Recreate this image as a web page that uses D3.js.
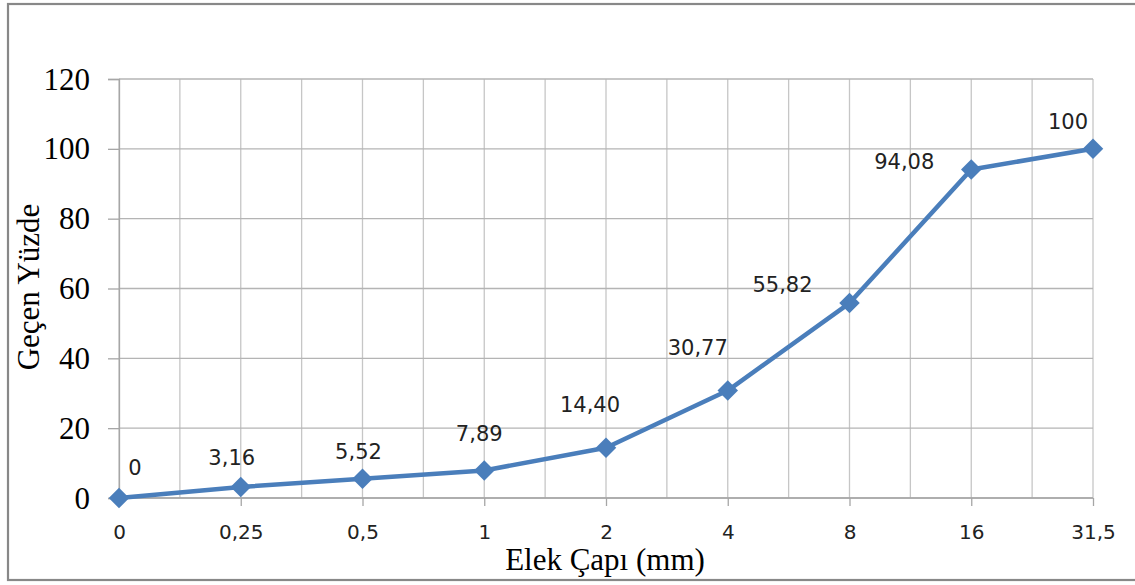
<!DOCTYPE html>
<html>
<head>
<meta charset="utf-8">
<script src="https://cdn.jsdelivr.net/npm/d3@7/dist/d3.min.js"></script>
<style>
  html, body { margin: 0; padding: 0; background: #fff; }
  svg { display: block; }
</style>
</head>
<body>
<svg id="chart" width="1135" height="585"></svg>
<script>
// Sieve sizes (mm) and cumulative passing percentage
const sieveLabels = ["0", "0,25", "0,5", "1", "2", "4", "8", "16", "31,5"];
const passingPct = [0, 3.16, 5.52, 7.89, 14.40, 30.77, 55.82, 94.08, 100];
const passingText = ["0", "3,16", "5,52", "7,89", "14,40", "30,77", "55,82", "94,08", "100"];
const yTicks = [0, 20, 40, 60, 80, 100, 120];

// Hand placement of each data label relative to its marker [dx, dy]
const labelNudge = [[16, -23], [-9, -22], [-4, -20], [-5, -29], [-16, -36], [-30, -36], [-67, -11], [-67, -1], [-25, -20]];

const svg = d3.select("#chart");
const W = 1135, H = 585;
const plot = { left: 119, right: 1093, top: 79, bottom: 498 };

svg.append("rect").attr("width", W).attr("height", H).attr("fill", "#fff");
// Chart frame
svg.append("rect")
  .attr("x", 8).attr("y", 4).attr("width", W + 10).attr("height", 576)
  .attr("fill", "none").attr("stroke", "#888").attr("stroke-width", 2.2);

const x = d3.scalePoint().domain(sieveLabels).range([plot.left, plot.right]);
const y = d3.scaleLinear().domain([0, 120]).range([plot.bottom, plot.top]);
const half = x.step() / 2;

const grid = svg.append("g");
// Vertical gridlines at each category and halfway between them
sieveLabels.forEach((c, i) => {
  const xs = [x(c)];
  if (i < sieveLabels.length - 1) xs.push(x(c) + half);
  xs.forEach(px => {
    grid.append("line")
      .attr("x1", px).attr("x2", px)
      .attr("y1", plot.top).attr("y2", plot.bottom)
      .attr("stroke", "#c6c6c6").attr("stroke-width", 1.3);
  });
});
// Horizontal gridlines
yTicks.forEach(t => {
  grid.append("line")
    .attr("x1", plot.left).attr("x2", plot.right)
    .attr("y1", y(t)).attr("y2", y(t))
    .attr("stroke", "#b4b4b4").attr("stroke-width", 1.3);
});

// Y axis
const yAxis = d3.axisLeft(y).tickValues(yTicks).tickSize(11).tickPadding(18).tickFormat(d3.format("d"));
const gy = svg.append("g").attr("transform", `translate(${plot.left},0)`).call(yAxis);
gy.select(".domain").attr("stroke", "#a6a6a6").attr("stroke-width", 1.3);
gy.selectAll(".tick line").attr("stroke", "#a6a6a6").attr("stroke-width", 1.3);
gy.selectAll(".tick text")
  .attr("font-family", "'Liberation Serif', 'Times New Roman', serif")
  .attr("font-size", 31).attr("fill", "#000")
  .attr("dy", null).attr("y", 10);

// X axis
const xAxis = d3.axisBottom(x).tickSize(8).tickPadding(0);
const gx = svg.append("g").attr("transform", `translate(0,${plot.bottom})`).call(xAxis);
gx.select(".domain").attr("stroke", "#a6a6a6").attr("stroke-width", 1.3).attr("d", `M${plot.left},0H${plot.right}`);
gx.selectAll(".tick line").attr("stroke", "#a6a6a6").attr("stroke-width", 1.3);
gx.selectAll(".tick text")
  .attr("font-family", "'DejaVu Sans', sans-serif")
  .attr("font-size", 20).attr("fill", "#222")
  .attr("dy", null).attr("y", 41);

// Axis titles
svg.append("text")
  .attr("transform", "translate(39,287) rotate(-90)")
  .attr("text-anchor", "middle")
  .attr("font-family", "'Liberation Serif', 'Times New Roman', serif")
  .attr("font-size", 31).attr("fill", "#000")
  .text("Geçen Yüzde");
svg.append("text")
  .attr("x", 605).attr("y", 570)
  .attr("text-anchor", "middle")
  .attr("font-family", "'Liberation Serif', 'Times New Roman', serif")
  .attr("font-size", 31).attr("fill", "#000")
  .text("Elek Çapı (mm)");

// Series
const pts = sieveLabels.map((c, i) => ({ c, v: passingPct[i], t: passingText[i], n: labelNudge[i] }));
const line = d3.line().x(d => x(d.c)).y(d => y(d.v));
svg.append("path")
  .datum(pts)
  .attr("d", line)
  .attr("fill", "none").attr("stroke", "#4a7ebb")
  .attr("stroke-width", 4.5).attr("stroke-linejoin", "round").attr("stroke-linecap", "round");

// Diamond markers (squares turned 45 degrees)
svg.append("g").selectAll("path")
  .data(pts).join("path")
  .attr("transform", d => `translate(${x(d.c)},${y(d.v)}) rotate(45)`)
  .attr("d", d3.symbol().type(d3.symbolSquare).size(210))
  .attr("fill", "#4a7ebb");

svg.append("g").selectAll("text")
  .data(pts).join("text")
  .attr("x", d => x(d.c) + d.n[0])
  .attr("y", d => y(d.v) + d.n[1])
  .attr("text-anchor", "middle")
  .attr("font-family", "'DejaVu Sans', sans-serif")
  .attr("font-size", 21).attr("fill", "#222")
  .text(d => d.t);
</script>
</body>
</html>
